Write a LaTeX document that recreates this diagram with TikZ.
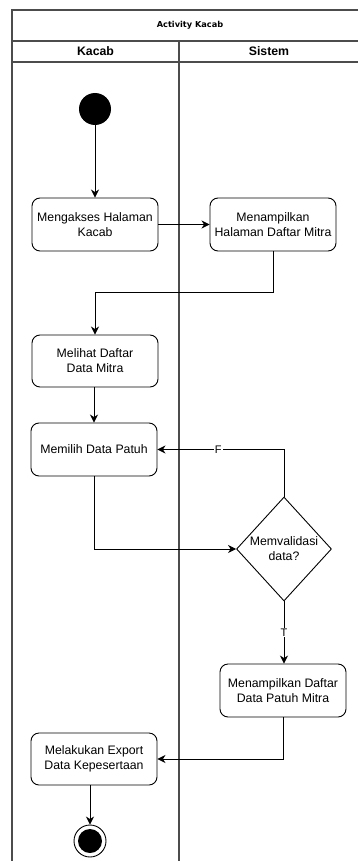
\documentclass[tikz,border=0pt]{standalone}
\usepackage{fontspec}
\setmainfont{Liberation Sans}
\newfontfamily\titlefont{DejaVu Sans}
\usetikzlibrary{shapes.geometric,arrows.meta}
\begin{document}
\begin{tikzpicture}[x=1pt,y=-1pt,
  lane/.style={draw=black!70,line width=1.2pt},
  actbox/.style={draw,rounded corners=8pt,line width=0.9pt,minimum width=126pt,minimum height=53pt,inner sep=0pt,align=center,font=\fontsize{12.3}{15}\selectfont},
  decis/.style={draw,diamond,aspect=0.91,line width=0.9pt,minimum width=95pt,minimum height=104pt,inner sep=0pt,align=center,font=\fontsize{12.3}{15}\selectfont},
  arr/.style={draw,line width=0.9pt,-{Stealth[length=8pt,width=8pt,inset=2.5pt]}},
  lbl/.style={fill=white,inner sep=1pt,font=\fontsize{11}{13}\selectfont}]
\useasboundingbox (0,0) rectangle (357,861);
% swimlane frame
\draw[lane] (362,10) -- (12,10) -- (12,900);
\draw[lane] (12,41) -- (362,41);
\draw[lane] (12,62) -- (362,62);
\draw[lane] (179,41) -- (179,900);
\node[font=\titlefont\bfseries\fontsize{8.2}{10}\selectfont] (title) at (190,25.5) {Activity Kacab};
\node[font=\bfseries\fontsize{12.3}{15}\selectfont] (h1) at (95.5,51.5) {Kacab};
\node[font=\bfseries\fontsize{12.3}{15}\selectfont] (h2) at (269,51.5) {Sistem};
% nodes
\node[circle,fill=black,minimum size=32pt,inner sep=0pt] (start) at (95,109) {};
\node[actbox] (a1) at (95,224.5) {Mengakses Halaman\\Kacab};
\node[actbox] (a2) at (273,224.5) {Menampilkan\\Halaman Daftar Mitra};
\node[actbox,minimum height=52pt] (a3) at (95,361) {Melihat Daftar\\Data Mitra};
\node[actbox] (a4) at (94,449.5) {Memilih Data Patuh};
\node[decis] (d) at (284,549) {Memvalidasi\\data?};
\node[actbox] (a5) at (283,690.5) {Menampilkan Daftar\\Data Patuh Mitra};
\node[actbox,minimum height=52pt] (a6) at (94,759) {Melakukan Export\\Data Kepesertaan};
\node[circle,draw,line width=0.9pt,minimum size=32pt,inner sep=0pt] (end) at (90,841) {};
\node[circle,fill=black,minimum size=24pt,inner sep=0pt] (endin) at (end) {};
% connectors
\coordinate (k1) at (95,292);
\draw[arr] (start) -- (a1);
\draw[arr] (a1.east) -- (a2.west);
\draw[arr] (a2.south) |- (k1) -- (a3.north);
\draw[arr] (a3.south -| a4.north) -- (a4.north);
\draw[arr] (a4.south) |- (d.west);
\draw[arr] (d.north) |- node[lbl,pos=0.76] {F} (a4.east);
\draw[arr] (d.south) -- node[lbl,pos=0.5] {T} (d.south |- a5.north);
\draw[arr] (a5.south) |- (a6.east);
\draw[arr] (end.north |- a6.south) -- (end.north);
\end{tikzpicture}
\end{document}
